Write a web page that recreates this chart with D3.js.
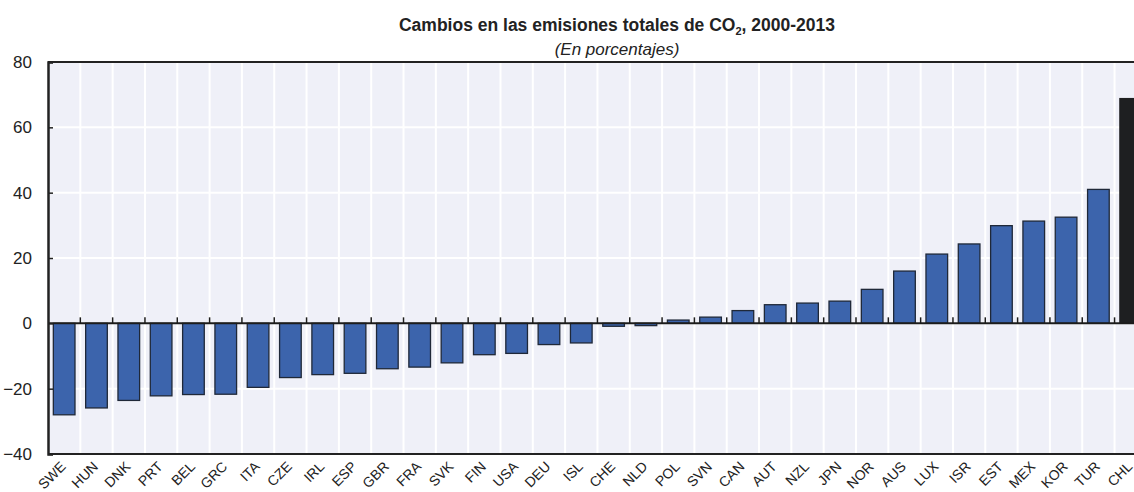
<!DOCTYPE html>
<html><head><meta charset="utf-8">
<script src="https://cdn.jsdelivr.net/npm/d3@7"></script>
<style>
body{margin:0;background:#fff;}
svg{display:block;}
text{font-family:"Liberation Sans",Arial,sans-serif;fill:#222;}
</style></head>
<body>
<svg id="chart" width="1134" height="492"></svg>
<script>
const countries = ["SWE","HUN","DNK","PRT","BEL","GRC","ITA","CZE","IRL","ESP","GBR","FRA","SVK","FIN","USA","DEU","ISL","CHE","NLD","POL","SVN","CAN","AUT","NZL","JPN","NOR","AUS","LUX","ISR","EST","MEX","KOR","TUR","CHL"];
const values = [-28.0,-25.9,-23.6,-22.2,-21.8,-21.7,-19.6,-16.6,-15.7,-15.3,-13.9,-13.4,-12.1,-9.6,-9.2,-6.5,-6.0,-0.9,-0.7,1.0,1.9,3.9,5.7,6.2,6.8,10.4,16.0,21.2,24.3,29.9,31.3,32.5,41.0,68.8];
const highlight = ["CHL"];
const yTicks = [-40,-20,0,20,40,60,80];
const title = "Cambios en las emisiones totales de CO";
const titleTail = ", 2000-2013";
const subtitle = "(En porcentajes)";

(function(){
const svg = d3.select("#chart");
const pLeft = 48, pTop = 62, pBottom = 454;
const step = 32.32;
const pRight = pLeft + step * countries.length;

const x = d3.scaleBand().domain(countries).range([pLeft, pRight]).paddingInner(0.33).paddingOuter(0.165);
const y = d3.scaleLinear().domain([-40, 80]).range([pBottom, pTop]);

svg.append("rect").attr("x", pLeft).attr("y", pTop).attr("width", pRight - pLeft).attr("height", pBottom - pTop).attr("fill", "#eff0f8");

svg.append("g").selectAll("line").data(yTicks).join("line")
  .attr("x1", pLeft).attr("x2", pRight).attr("y1", d => y(d)).attr("y2", d => y(d))
  .attr("stroke", "#fff").attr("stroke-width", 2);

const bounds = d3.range(1, countries.length).map(i => pLeft + i * step);
svg.append("g").selectAll("line").data(bounds).join("line")
  .attr("x1", d => d).attr("x2", d => d).attr("y1", pTop).attr("y2", pBottom)
  .attr("stroke", "#fff").attr("stroke-width", 2);

svg.append("g").selectAll("rect").data(countries).join("rect")
  .attr("x", d => x(d))
  .attr("width", x.bandwidth())
  .attr("y", (d, i) => y(Math.max(0, values[i])))
  .attr("height", (d, i) => Math.abs(y(values[i]) - y(0)))
  .attr("fill", d => highlight.includes(d) ? "#1e1f21" : "#3c64ac")
  .attr("stroke", d => highlight.includes(d) ? "#1e1f21" : "#1f2838")
  .attr("stroke-width", 1.3);

svg.append("line").attr("x1", pLeft).attr("x2", 1134).attr("y1", y(0)).attr("y2", y(0))
  .attr("stroke", "#1c1c1c").attr("stroke-width", 2);
svg.append("g").selectAll("line").data(bounds).join("line")
  .attr("x1", d => d).attr("x2", d => d).attr("y1", y(0)).attr("y2", y(0) - 6)
  .attr("stroke", "#1c1c1c").attr("stroke-width", 1.5);

svg.append("line").attr("x1", pLeft).attr("x2", 1134).attr("y1", pTop).attr("y2", pTop).attr("stroke", "#222").attr("stroke-width", 2);
svg.append("line").attr("x1", pLeft).attr("x2", 1134).attr("y1", pBottom).attr("y2", pBottom).attr("stroke", "#222").attr("stroke-width", 2);

const yAxis = d3.axisLeft(y).tickValues(yTicks).tickSize(-5).tickPadding(16).tickFormat(d3.format("d"));
const gy = svg.append("g").attr("transform", `translate(${pLeft},0)`).call(yAxis);
gy.select(".domain").attr("stroke", "#222").attr("stroke-width", 2.5);
gy.selectAll(".tick line").attr("stroke", "#222").attr("stroke-width", 1.5);
gy.selectAll(".tick text").attr("font-size", 17).attr("fill", "#222")
  .attr("font-family", "'Liberation Sans',Arial,sans-serif");

svg.append("g").attr("class", "xlabels").selectAll("text").data(countries).join("text")
  .attr("transform", d => "translate(" + (x(d) + x.bandwidth() / 2 - 1) + "," + (pBottom + 10) + ") rotate(-45)")
  .attr("text-anchor", "end").attr("dy", "0.35em")
  .attr("font-size", 14)
  .text(d => d);

const t = svg.append("text").attr("x", 617).attr("y", 31).attr("text-anchor", "middle")
  .attr("font-size", 17.5).attr("font-weight", "bold");
t.append("tspan").text(title);
t.append("tspan").attr("font-size", 11).attr("dy", 4).text("2");
t.append("tspan").attr("dy", -4).text(titleTail);

svg.append("text").attr("x", 617).attr("y", 55).attr("text-anchor", "middle")
  .attr("font-size", 17).attr("font-style", "italic").text(subtitle);
})();
</script>
</body></html>
